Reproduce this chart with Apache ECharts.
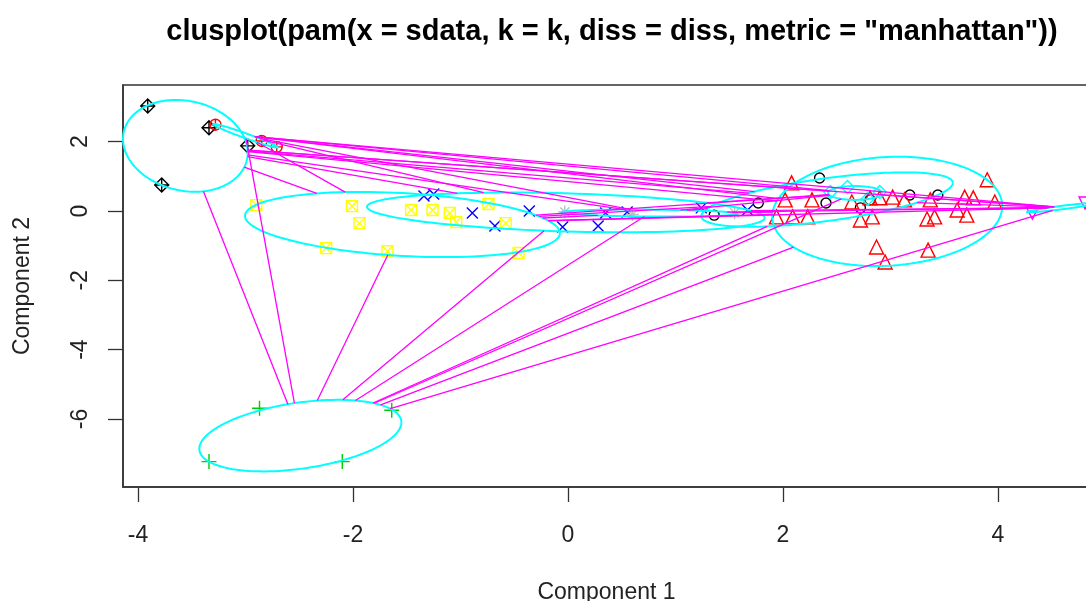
<!DOCTYPE html>
<html>
<head>
<meta charset="utf-8">
<title>clusplot</title>
<script src="https://cdn.jsdelivr.net/npm/echarts@6/dist/echarts.min.js"></script>
<style>
html, body { margin: 0; padding: 0; background: #fff; }
#chart { width: 1086px; height: 601px; }
</style>
</head>
<body>
<div id="chart"></div>
<script>
// tick labels
var xTicks = [-4, -2, 0, 2, 4];
var yTicks = [-6, -4, -2, 0, 2];

// points per cluster (Component 1, Component 2)
var clus1 = [[1.36,-0.12],[1.77,0.23],[2.34,0.95],[2.40,0.23],[2.72,0.09],[2.81,0.32],[3.18,0.46],[3.44,0.46]];
var clus2 = [[2.08,0.81],[3.90,0.90],[2.02,0.32],[2.27,0.32],[1.94,-0.17],[2.09,-0.17],[2.23,-0.17],
             [2.64,0.26],[2.72,-0.26],[2.83,-0.17],[2.81,0.38],[2.90,0.38],[3.02,0.40],[3.13,0.32],
             [3.37,0.32],[3.34,-0.23],[3.41,-0.17],[3.69,0.40],[3.77,0.38],[3.62,0.03],[3.71,-0.12],
             [3.97,0.26],[2.87,-1.04],[3.35,-1.13],[2.95,-1.47]];
var clus3 = [[-2.87,-5.69],[-3.34,-7.23],[-2.10,-7.23],[-1.64,-5.75]];
var clus4 = [[-1.34,0.43],[-1.25,0.49],[-0.89,-0.06],[-0.68,-0.43],[-0.36,0.00],[-0.05,-0.46],
             [0.28,-0.43],[0.35,-0.06],[0.55,-0.03],[1.24,0.09],[1.67,0.03]];
var clus5 = [[2.44,0.55],[2.60,0.69],[2.79,0.35],[2.90,0.55]];
var clus6 = [[4.32,-0.06],[4.81,0.23]];
var clus7 = [[-2.90,0.17],[-2.01,0.14],[-1.94,-0.35],[-2.25,-1.07],[-1.68,-1.16],[-1.46,0.03],
             [-1.26,0.03],[-1.10,-0.06],[-1.04,-0.32],[-0.74,0.20],[-0.58,-0.35],[-0.46,-1.21]];
var clus8 = [[-0.03,-0.03],[0.60,-0.10],[1.55,-0.05]];
var clus9 = [[-3.91,3.03],[-3.34,2.40],[-2.98,1.88],[-3.78,0.75]];
var clus10 = [[-3.28,2.49],[-2.85,2.02],[-2.71,1.85]];

// cluster ellipses: centre and two conjugate half-axes
var ellCenter = [[2.41,0.33],[2.97,-0.01],[-2.49,-6.48],[-0.02,-0.04],[2.67,0.52],
                 [4.60,0.10],[-1.54,-0.39],[0.76,-0.06],[-3.56,1.88],[-3.00,2.17]];
var ellAxisA = [[1.17,0.48],[1.07,0.15],[0.94,0.38],[1.85,-0.16],[0.25,0.00],
                [0.33,0.13],[1.465,-0.25],[0.82,-0.02],[0.58,-0.20],[0.30,-0.34]];
var ellAxisB = [[0,0.62],[0,1.57],[0,0.96],[0,0.55],[0,0.20],
                [0,0.05],[0,0.906],[0,0.10],[0,1.31],[0.03,0.04]];

var palette = ['#000000','#ff0000','#00cd00','#0000ff','#00ffff','#ff00ff','#ffff00','#bebebe','#000000','#ff0000'];
var pchs = [
    'circle',
    'triangle',
    'path://M0,5L10,5M5,0L5,10',
    'path://M0,0L10,10M10,0L0,10',
    'diamond',
    'path://M0,0L10,0L5,8.66Z',
    'path://M0,0L10,0L10,10L0,10ZM0,0L10,10M10,0L0,10',
    'path://M0,5L10,5M5,0L5,10M1.5,1.5L8.5,8.5M8.5,1.5L1.5,8.5',
    'path://M5,0L10,5L5,10L0,5ZM0,5L10,5M5,0L5,10',
    'path://M0,5A5,5,0,1,1,10,5A5,5,0,1,1,0,5ZM0,5L10,5M5,0L5,10'
];
var pchSize = [10, 14, 15, 11, 13, 12, 11, 13, 14, 11];
var clusters = [clus1, clus2, clus3, clus4, clus5, clus6, clus7, clus8, clus9, clus10];

var myChart = echarts.init(document.getElementById('chart'));

// ellipse outline from centre and half-axes
function ellipsePath(k) {
    var c = ellCenter[k], a = ellAxisA[k], b = ellAxisB[k], pts = [];
    for (var i = 0; i <= 120; i++) {
        var t = 2 * Math.PI * i / 120;
        pts.push([c[0] + a[0] * Math.cos(t) + b[0] * Math.sin(t),
                  c[1] + a[1] * Math.cos(t) + b[1] * Math.sin(t)]);
    }
    return pts;
}

// fraction of the centre-to-centre vector d that lies inside ellipse k
function insideFrac(k, d) {
    var a = ellAxisA[k], b = ellAxisB[k];
    var det = a[0] * b[1] - b[0] * a[1];
    var u = (d[0] * b[1] - b[0] * d[1]) / det;
    var v = (a[0] * d[1] - a[1] * d[0]) / det;
    return 1 / Math.sqrt(u * u + v * v);
}

var ellData = [], distData = [];
for (var i = 0; i < ellCenter.length; i++) {
    ellData.push({ coords: ellipsePath(i) });
    for (var j = i + 1; j < ellCenter.length; j++) {
        var ci = ellCenter[i], cj = ellCenter[j];
        var d = [cj[0] - ci[0], cj[1] - ci[1]];
        var ti = insideFrac(i, d), tj = insideFrac(j, d);
        if (ti + tj < 1) {
            distData.push({ coords: [[ci[0] + ti * d[0], ci[1] + ti * d[1]],
                                     [cj[0] - tj * d[0], cj[1] - tj * d[1]]] });
        }
    }
}

var series = [];
clusters.forEach(function (pts, k) {
    series.push({
        type: 'scatter',
        name: 'cluster ' + (k + 1),
        data: pts,
        symbol: pchs[k],
        symbolSize: pchSize[k],
        itemStyle: { color: 'rgba(0,0,0,0)', borderColor: palette[k], borderWidth: 1.4, opacity: 1 },
        emphasis: { disabled: true },
        z: 2
    });
});
series.push({
    type: 'lines',
    coordinateSystem: 'cartesian2d',
    polyline: true,
    data: ellData,
    lineStyle: { color: '#00ffff', width: 2, opacity: 1 },
    silent: true,
    z: 3
});
series.push({
    type: 'lines',
    coordinateSystem: 'cartesian2d',
    data: distData,
    lineStyle: { color: '#ff00ff', width: 1.3, opacity: 1 },
    silent: true,
    z: 4
});

var font = "'Liberation Sans', Arial, sans-serif";

var option = {
    animation: false,
    title: {
        text: 'clusplot(pam(x = sdata, k = k, diss = diss, metric = "manhattan"))',
        left: 607,
        textAlign: 'center',
        top: 12,
        textStyle: { fontFamily: font, fontWeight: 'bold', fontSize: 29, color: '#000' }
    },
    grid: {
        left: 123, top: 85, right: -4, bottom: 114,
        containLabel: false, outerBoundsMode: 'none',
        show: true, borderColor: '#333', borderWidth: 1.5, backgroundColor: '#fff'
    },
    xAxis: {
        type: 'value',
        min: -4.14, max: 4.856,
        name: 'Component 1',
        nameLocation: 'middle',
        nameGap: 94,
        nameTextStyle: { fontFamily: font, fontSize: 23, color: '#222' },
        axisLine: { show: true, onZero: false, lineStyle: { color: '#333', width: 1.5 } },
        splitLine: { show: false },
        axisTick: { show: true, customValues: xTicks, length: 15, lineStyle: { color: '#333', width: 1.3 } },
        axisLabel: { customValues: xTicks, fontFamily: font, fontSize: 23, color: '#222', margin: 37 }
    },
    yAxis: {
        type: 'value',
        min: -7.963, max: 3.635,
        name: 'Component 2',
        nameLocation: 'middle',
        nameGap: 89,
        nameRotate: 90,
        nameTextStyle: { fontFamily: font, fontSize: 23, color: '#222' },
        axisLine: { show: true, onZero: false, lineStyle: { color: '#333', width: 1.5 } },
        splitLine: { show: false },
        axisTick: { show: true, customValues: yTicks, length: 15, lineStyle: { color: '#333', width: 1.3 } },
        axisLabel: { customValues: yTicks, rotate: 90, fontFamily: font, fontSize: 23, color: '#222', margin: 31 }
    },
    series: series
};

myChart.setOption(option);
</script>
</body>
</html>
